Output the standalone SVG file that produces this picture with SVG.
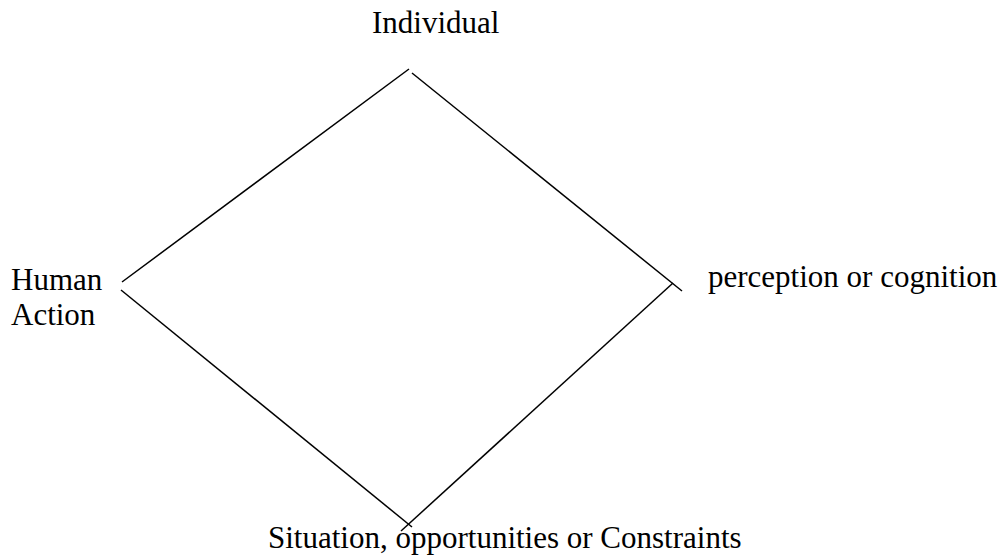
<svg xmlns="http://www.w3.org/2000/svg" width="1008" height="555" viewBox="0 0 1008 555">
<style>
text{font-family:"Liberation Serif","Times New Roman",serif;font-size:31px;fill:#000}
.ln{stroke:#000;stroke-width:1.5;fill:none}
</style>
<rect width="1008" height="555" fill="#fff"/>
<g id="connectors">
<line class="ln" x1="122" y1="282" x2="409" y2="69"/>
<line class="ln" x1="412" y1="73" x2="682" y2="291"/>
<line class="ln" x1="121" y1="290" x2="412" y2="527"/>
<line class="ln" x1="673" y1="283" x2="401" y2="531"/>
</g>
<g id="individual"><text x="372" y="33">Individual</text></g>
<g id="human-action"><text x="11" y="290">Human</text><text x="11" y="325">Action</text></g>
<g id="perception"><text x="708" y="287">perception or cognition</text></g>
<g id="situation"><text x="268" y="548">Situation, opportunities or Constraints</text></g>
</svg>
